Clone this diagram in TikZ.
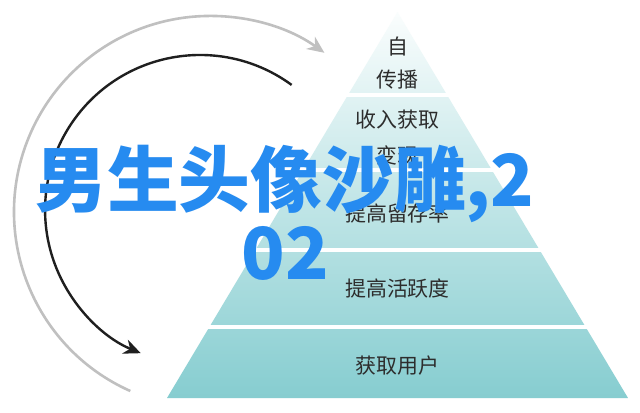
\documentclass[tikz,border=0pt]{standalone}
\usepackage{fontspec}
\newfontfamily\cjk{Noto Sans CJK SC}
\usetikzlibrary{arrows.meta,calc}

\definecolor{pyrtop}{RGB}{250,253,253}
\definecolor{pyrmid}{RGB}{200,234,236}
\definecolor{pyrbase}{RGB}{134,205,208}
\definecolor{labelgray}{RGB}{45,45,45}
\definecolor{arcgray}{RGB}{192,192,192}
\definecolor{titleblue}{RGB}{38,139,240}

\begin{document}
\begin{tikzpicture}
[   x=1bp,y=-1bp,
    lbl/.style={text=labelgray,font=\cjk\fontsize{21}{21}\selectfont,inner sep=0pt},
]
\tikzset{gray arrow/.style={draw=arcgray,line width=2.6bp,-{Stealth[length=17bp,width=15bp]}}}
\tikzset{black arrow/.style={draw=black!88,line width=2.4bp,-{Stealth[length=17bp,width=15bp]}}}
\useasboundingbox (0,0) rectangle (640,412);
\fill[white] (0,0) rectangle (640,412);

% pyramid
\coordinate (apex) at (397.5,12);
\coordinate (base-l) at (167,398);
\coordinate (base-r) at (628,398);
\shade[top color=pyrtop,middle color=pyrmid,bottom color=pyrbase] (apex) -- (base-r) -- (base-l) -- cycle;
\foreach \y in {95,170,250,327}
{
	\pgfmathsetmacro\hw{0.597*(\y-12)+4}
	\draw[white,line width=4bp] (397.5-\hw,\y) -- (397.5+\hw,\y);
}

% layer texts
\node[lbl] (lay-1a) at (397.5,47) {自};
\node[lbl] (lay-1b) at (397.5,80) {传播};
\node[lbl] (lay-2a) at (397.5,120) {收入获取};
\node[lbl] (lay-2b) at (397.5,155) {变现};
\node[lbl] (lay-3) at (397.5,213) {提高留存率};
\node[lbl] (lay-4) at (397.5,289) {提高活跃度};
\node[lbl] (lay-5) at (397.5,366) {获取用户};

% arcs
\coordinate (outer-start) at (130.3,391);
\coordinate (inner-start) at (291.6,84.9);
\path[gray arrow] (outer-start) arc[start angle=114,end angle=305.7,radius=196];
\path[black arrow] (inner-start) arc[start angle=306.2,end angle=112.5,radius=155];

% overlay title
\node[font=\cjk\bfseries\fontsize{72}{73}\selectfont,text=titleblue,align=center,inner sep=0pt] (title) at (285,213) {男生头像沙雕,2\\02};
\end{tikzpicture}
\end{document}
